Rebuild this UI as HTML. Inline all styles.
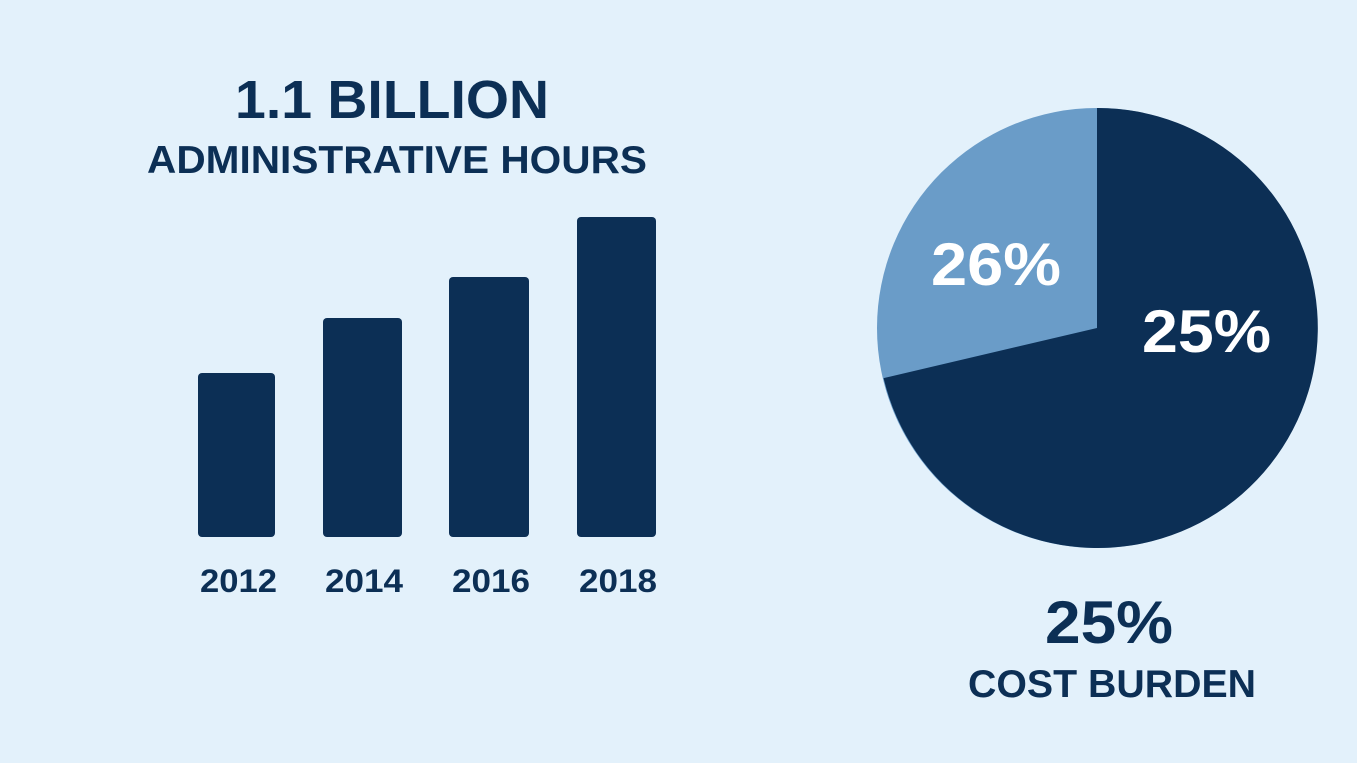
<!DOCTYPE html>
<html><head><meta charset="utf-8"><style>
html,body{margin:0;padding:0;background:#e3f1fb;}
svg{display:block;}
text{font-family:"Liberation Sans",sans-serif;font-weight:bold;}
</style></head><body>
<svg width="1357" height="763" viewBox="0 0 1357 763" xmlns="http://www.w3.org/2000/svg">
<rect width="1357" height="763" fill="#e3f1fb"/>
<text x="235" y="118" font-size="54" fill="#0c2f55" textLength="314" lengthAdjust="spacingAndGlyphs">1.1 BILLION</text>
<text x="147" y="173" font-size="39" fill="#0c2f55" textLength="500" lengthAdjust="spacingAndGlyphs">ADMINISTRATIVE HOURS</text>
<g fill="#0c2f55">
<rect x="198" y="373" width="77" height="164" rx="4"/>
<rect x="323" y="318" width="79" height="219" rx="4"/>
<rect x="449" y="277" width="80" height="260" rx="4"/>
<rect x="577" y="217" width="79" height="320" rx="4"/>
</g>
<g font-size="32" fill="#0c2f55">
<text x="200" y="592" textLength="77" lengthAdjust="spacingAndGlyphs">2012</text>
<text x="325" y="592" textLength="78" lengthAdjust="spacingAndGlyphs">2014</text>
<text x="452" y="592" textLength="78" lengthAdjust="spacingAndGlyphs">2016</text>
<text x="579" y="592" textLength="78" lengthAdjust="spacingAndGlyphs">2018</text>
</g>
<circle cx="1097" cy="328" r="220" fill="#6a9cc8"/>
<path d="M1097 328 L1097 108 A220 220 0 1 1 883.6 378.1 Z" fill="#0c2f55"/>
<text x="931" y="285" font-size="60" fill="#ffffff" textLength="130" lengthAdjust="spacingAndGlyphs">26%</text>
<text x="1142" y="352" font-size="60" fill="#ffffff" textLength="129" lengthAdjust="spacingAndGlyphs">25%</text>
<text x="1045" y="643" font-size="60" fill="#0c2f55" textLength="128" lengthAdjust="spacingAndGlyphs">25%</text>
<text x="968" y="697" font-size="39" fill="#0c2f55" textLength="288" lengthAdjust="spacingAndGlyphs">COST BURDEN</text>
</svg>
</body></html>
